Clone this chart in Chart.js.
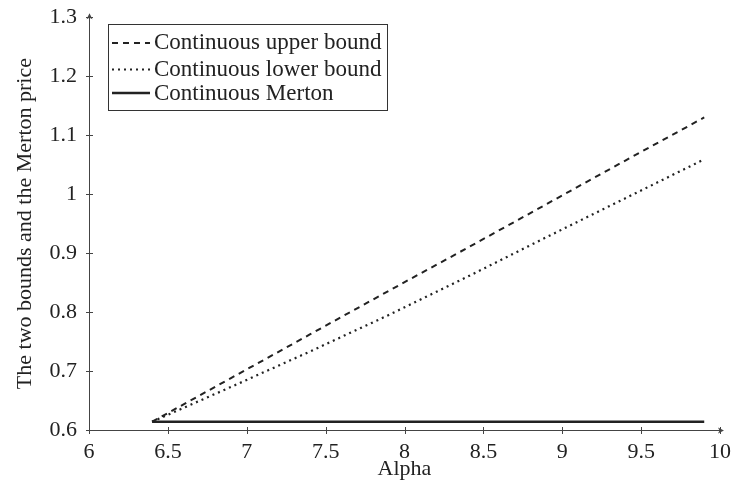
<!DOCTYPE html>
<html>
<head>
<meta charset="utf-8">
<script src="https://cdn.jsdelivr.net/npm/chart.js@4"></script>
<style>
  html, body { margin: 0; padding: 0; background: #fff; }
  canvas { display: block; }
</style>
</head>
<body>
<canvas id="boundsChart" width="733" height="491"></canvas>
<script>
// values
const alphas = [6.4, 6.9, 7.4, 7.9, 8.4, 8.9, 9.4, 9.9];
const upperBound = [0.614, 0.688, 0.762, 0.836, 0.909, 0.983, 1.057, 1.130];
const lowerBound = [0.614, 0.673, 0.733, 0.795, 0.860, 0.927, 0.993, 1.059];
const mertonPrice = [0.614, 0.614, 0.614, 0.614, 0.614, 0.614, 0.614, 0.614];

const xTicks = [6, 6.5, 7, 7.5, 8, 8.5, 9, 9.5, 10];
const xTickLabels = ['6', '6.5', '7', '7.5', '8', '8.5', '9', '9.5', '10'];
const yTicks = [0.6, 0.7, 0.8, 0.9, 1, 1.1, 1.2, 1.3];
const yTickLabels = ['0.6', '0.7', '0.8', '0.9', '1', '1.1', '1.2', '1.3'];

const FONT = "'Liberation Serif', 'DejaVu Serif', serif";
const INK = '#222';

function pts(ys) {
    return alphas.map((a, i) => ({ x: a, y: ys[i] }));
}

// axis lines with arrows and crossing tick marks, pgfplots style
const axesPlugin = {
    id: 'axes',
    afterDraw(chart) {
        const ctx = chart.ctx;
        const xs = chart.scales.x, ys = chart.scales.y;
        const x0 = xs.left, y0 = ys.bottom;
        ctx.save();
        ctx.strokeStyle = '#444';
        ctx.fillStyle = '#444';
        ctx.lineWidth = 1;
        ctx.beginPath();
        ctx.moveTo(x0, y0 + 0.5);
        ctx.lineTo(xs.right + 3, y0 + 0.5);
        ctx.moveTo(x0 + 0.5, y0);
        ctx.lineTo(x0 + 0.5, ys.top - 3);
        xTicks.forEach(v => {
            const px = Math.round(xs.getPixelForValue(v)) + 0.5;
            ctx.moveTo(px, y0 - 3);
            ctx.lineTo(px, y0 + 4);
        });
        yTicks.forEach(v => {
            const py = Math.round(ys.getPixelForValue(v)) + 0.5;
            ctx.moveTo(x0 - 3, py);
            ctx.lineTo(x0 + 4, py);
        });
        ctx.stroke();
        // arrow heads
        const ax = xs.right + 4, ay = y0 + 0.5;
        ctx.beginPath();
        ctx.moveTo(ax, ay);
        ctx.lineTo(ax - 6, ay - 3);
        ctx.lineTo(ax - 4.5, ay);
        ctx.lineTo(ax - 6, ay + 3);
        ctx.closePath();
        ctx.fill();
        const bx = x0 + 0.5, by = ys.top - 4;
        ctx.beginPath();
        ctx.moveTo(bx, by);
        ctx.lineTo(bx - 3, by + 6);
        ctx.lineTo(bx, by + 4.5);
        ctx.lineTo(bx + 3, by + 6);
        ctx.closePath();
        ctx.fill();
        ctx.restore();
    }
};

// boxed legend in the upper left of the plot
const boxLegend = {
    id: 'boxLegend',
    afterDraw(chart) {
        const ctx = chart.ctx;
        const rows = [43, 69.5, 93];
        const base = [49, 76, 100];
        ctx.save();
        ctx.fillStyle = '#fff';
        ctx.fillRect(108, 24, 279, 86);
        ctx.strokeStyle = '#333';
        ctx.lineWidth = 1;
        ctx.strokeRect(108.5, 24.5, 279, 86);
        chart.data.datasets.forEach((ds, i) => {
            ctx.beginPath();
            ctx.strokeStyle = ds.borderColor;
            ctx.lineWidth = ds.borderWidth;
            ctx.setLineDash(ds.borderDash || []);
            ctx.moveTo(112, rows[i]);
            ctx.lineTo(150, rows[i]);
            ctx.stroke();
            ctx.setLineDash([]);
            ctx.fillStyle = INK;
            ctx.font = '23px ' + FONT;
            ctx.textBaseline = 'alphabetic';
            ctx.fillText(ds.label, 154, base[i]);
        });
        ctx.restore();
    }
};

new Chart(document.getElementById('boundsChart'), {
    type: 'line',
    data: {
        datasets: [
            {
                label: 'Continuous upper bound',
                data: pts(upperBound),
                borderColor: INK,
                borderWidth: 2,
                borderDash: [6, 5],
                pointRadius: 0,
                tension: 0
            },
            {
                label: 'Continuous lower bound',
                data: pts(lowerBound),
                borderColor: INK,
                borderWidth: 2.2,
                borderDash: [2, 4],
                pointRadius: 0,
                tension: 0
            },
            {
                label: 'Continuous Merton',
                data: pts(mertonPrice),
                borderColor: INK,
                borderWidth: 2.5,
                pointRadius: 0,
                tension: 0
            }
        ]
    },
    options: {
        responsive: false,
        animation: false,
        devicePixelRatio: 1,
        layout: { padding: { top: 13, right: 13, left: 0, bottom: 0 } },
        plugins: {
            legend: { display: false },
            tooltip: { enabled: false }
        },
        scales: {
            x: {
                type: 'linear',
                min: 6,
                max: 10,
                afterBuildTicks: s => { s.ticks = xTicks.map(v => ({ value: v })); },
                afterFit: s => { s.height = 61; },
                grid: { display: false },
                border: { display: false },
                ticks: {
                    autoSkip: false,
                    maxRotation: 0,
                    padding: 1,
                    color: INK,
                    font: { family: FONT, size: 22 },
                    callback: (v, i) => xTickLabels[i]
                },
                title: {
                    display: true,
                    text: 'Alpha',
                    color: INK,
                    font: { family: FONT, size: 22, lineHeight: 1.2 },
                    padding: { top: 0, bottom: 9 }
                }
            },
            y: {
                min: 0.6,
                max: 1.3,
                afterBuildTicks: s => { s.ticks = yTicks.map(v => ({ value: v })); },
                afterFit: s => { s.width = 89; },
                grid: { display: false },
                border: { display: false },
                ticks: {
                    autoSkip: false,
                    padding: 4,
                    color: INK,
                    font: { family: FONT, size: 22 },
                    callback: (v, i) => yTickLabels[i]
                },
                title: {
                    display: true,
                    text: 'The two bounds and the Merton price',
                    color: INK,
                    font: { family: FONT, size: 22, lineHeight: 1.2 },
                    padding: { top: 12, bottom: 0 }
                }
            }
        }
    },
    plugins: [axesPlugin, boxLegend]
});
</script>
</body>
</html>
